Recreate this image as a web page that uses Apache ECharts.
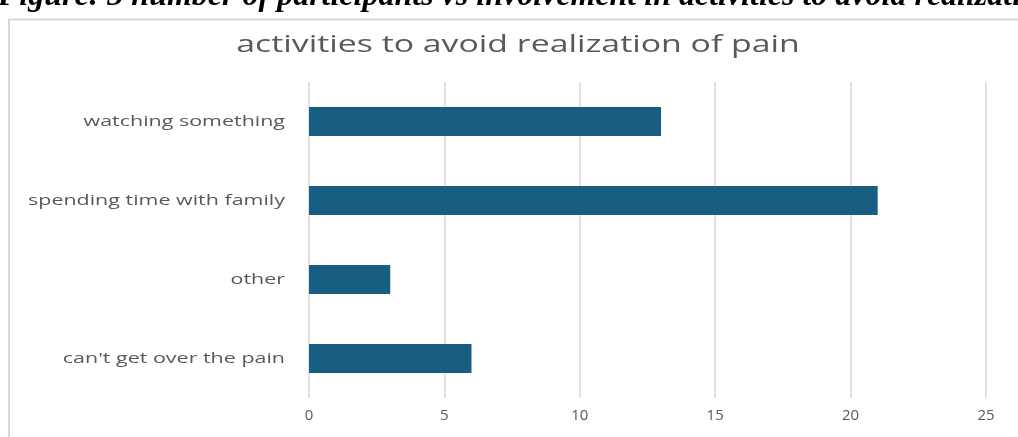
<!DOCTYPE html>
<html><head><meta charset="utf-8">
<script src="https://cdn.jsdelivr.net/npm/echarts@6/dist/echarts.min.js"></script>
<style>html,body{margin:0;padding:0;background:#fff;}#c{width:1018px;height:437px;}</style>
</head><body><div id="c"></div>
<script>
const categories = ["watching something", "spending time with family", "other", "can't get over the pain"];
const values = [13, 21, 3, 6];
const xTicks = [0, 5, 10, 15, 20, 25];
const caption = "Figure: 3 number of participants vs involvement in activities to avoid realization of pain";
const chartTitle = "activities to avoid realization of pain";

const chart = echarts.init(document.getElementById('c'), null, {renderer: 'canvas'});
const baseGraphics = [
  {type: 'rect', shape: {x: 9, y: 19.5, width: 1030, height: 430}, style: {fill: 'none', stroke: '#d9d9d9', lineWidth: 2}, z: -1},
  {type: 'text', x: -2, y: -19, style: {text: caption, font: 'italic bold 32px "Liberation Serif"', fill: '#000'}},
  {type: 'text', x: 518, y: 45, scaleX: 1.47, style: {text: chartTitle, font: '23px "Open Sans"', fill: '#595959', textAlign: 'center', textVerticalAlign: 'middle'}}
];
chart.setOption({
  animation: false,
  backgroundColor: '#fff',
  graphic: baseGraphics,
  grid: {left: 309, right: 32, top: 82, bottom: 39},
  xAxis: {
    type: 'value', min: xTicks[0], max: xTicks[xTicks.length - 1], interval: 5,
    axisLine: {show: false}, axisTick: {show: false},
    splitLine: {lineStyle: {color: '#d9d9d9', width: 1.5}},
    axisLabel: {fontFamily: 'Open Sans', fontSize: 15, color: '#595959', margin: 10}
  },
  yAxis: {
    type: 'category', data: categories, inverse: true,
    axisLine: {show: false}, axisTick: {show: false},
    axisLabel: {show: false}
  },
  series: [{
    type: 'bar', data: values, barWidth: 29,
    itemStyle: {color: '#175e81'}
  }]
});
const labelGraphics = categories.map(function (c) {
  const y = chart.convertToPixel({yAxisIndex: 0}, c);
  return {type: 'text', x: 285, y: y, scaleX: 1.43,
    style: {text: c, font: '15px "Open Sans"', fill: '#595959', textAlign: 'right', textVerticalAlign: 'middle'}};
});
chart.setOption({graphic: baseGraphics.concat(labelGraphics)});
</script></body></html>
